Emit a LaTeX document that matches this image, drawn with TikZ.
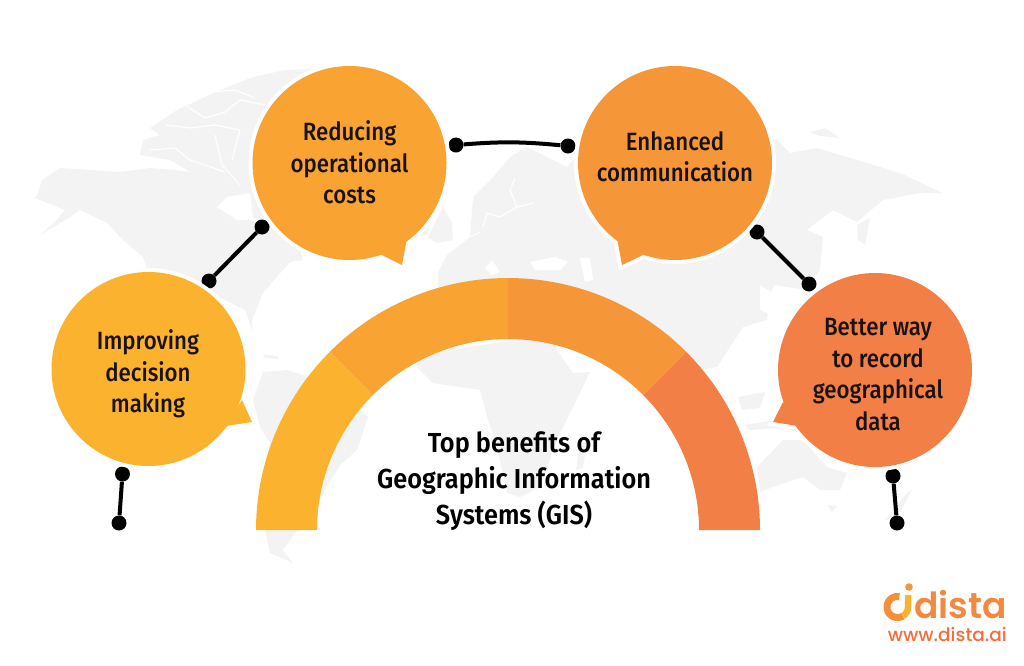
\documentclass[tikz,border=0pt]{standalone}
\usepackage{fontspec}
\setmainfont{Fira Sans}
\newfontfamily\lab{Fira Sans Medium}[FakeStretch=0.89]
\newfontfamily\ttlf{Fira Sans SemiBold}[FakeStretch=0.92]
\newfontfamily\logof{Poppins SemiBold}
\newfontfamily\urlf{Poppins Medium}
\definecolor{mapgray}{HTML}{F3F3F4}
\definecolor{cA}{HTML}{FBB32F}
\definecolor{cB}{HTML}{F8A332}
\definecolor{cC}{HTML}{F59738}
\definecolor{cD}{HTML}{F28046}
\definecolor{inkc}{HTML}{1A1210}
\tikzset{
  land/.style={fill=mapgray,draw=none},
  gap/.style={draw=white,line width=1.2pt,line join=round},
  hole/.style={fill=white,draw=none},
  dot/.style={circle,fill=black,inner sep=0pt,minimum size=15pt},
  link/.style={draw=black,line width=4pt},
  lbl/.style={font=\lab\fontsize{25}{31.4}\selectfont,text=inkc,align=center,inner sep=0pt},
  ttl/.style={font=\ttlf\fontsize{27.5}{36}\selectfont,text=black,align=center,inner sep=0pt},
  halo/.style={draw=white,fill=white,line width=8pt,line join=miter}
}
\newcommand{\sector}[3]{%
  \fill[#1] plot[domain=#2:#3,samples=50,smooth] ({508+252*cos(\x)},{530-252*sin(\x)})
    -- plot[domain=#3:#2,samples=50,smooth] ({508+191*cos(\x)},{530-191*sin(\x)}) -- cycle;}
\newcommand{\bubble}[6]{% x y colour, tail points
  \path[halo] (#1,#2) circle (97pt);
  \path[halo] (#4) -- (#5) -- (#6) -- cycle;
  \fill[#3] (#1,#2) circle (97pt);
  \fill[#3] (#4) -- (#5) -- (#6) -- cycle;}
\begin{document}
\begin{tikzpicture}[x=1pt,y=-1pt]
\useasboundingbox (0,0) rectangle (1024,665);
% --- world map
\fill[land] (37,195)--(42,180)--(60,168)--(90,170)--(120,172)--(150,168)--(175,170)--(190,172)--(170,160)--(140,155)--(143,140)--(160,135)--(150,128)--(177,110)--(220,90)--(253,77)--(285,70)--(340,68)--(340,110)--(300,220)--(300,250)--(303,260)--(290,262)--(263,293)--(252,320)--(253,332)--(245,310)--(225,300)--(147,270)--(143,257)--(123,240)--(107,223)--(80,210)--(70,217)--(40,235)--(55,222)--(65,210)--(35,198)--cycle;
\fill[hole] (217,207)--(227,197)--(250,193)--(253,217)--(262,225)--(250,220)--(237,220)--cycle;
\draw[gap] (150,150)--(175,148)--(190,160)--(205,165)--(225,172);
\draw[gap] (165,125)--(190,128)--(215,125)--(240,130);
\draw[gap] (185,105)--(205,118)--(225,112)--(240,100)--(265,105);
\draw[gap] (215,135)--(222,165)--(240,185);
\draw[gap] (240,130)--(232,160);
\draw[gap] (210,92)--(235,90)--(255,98);
\draw[gap] (80,210)--(72,222);
\fill[land] (253,400)--(263,372)--(287,370)--(303,375)--(340,395)--(368,417)--(357,450)--(340,465)--(325,490)--(310,520)--(295,533)--(283,550)--(293,563)--(270,553)--(265,530)--(265,480)--(270,443)--(260,427)--cycle;
\fill[land] (263,354)--(277,356)--(279,359)--(265,358)--cycle;
\fill[land] (410,355)--(418,368)--(433,383)--(480,390)--(487,417)--(497,447)--(507,493)--(520,497)--(540,487)--(557,440)--(570,413)--(590,372)--(573,373)--(557,350)--(553,335)--cycle;
\fill[land] (580,445)--(587,440)--(583,468)--(576,470)--cycle;
\fill[land] (438,300)--(438,272)--(447,255)--(470,237)--(473,197)--(493,177)--(510,157)--(527,147)--(567,167)--(600,130)--(777,140)--(790,153)--(817,148)--(867,163)--(900,173)--(943,193)--(920,193)--(883,200)--(857,222)--(833,210)--(807,230)--(823,237)--(820,270)--(805,290)--(775,285)--(770,293)--(767,320)--(743,327)--(730,347)--(717,367)--(690,372)--(620,360)--(570,340)--(508,335)--cycle;
\fill[hole] (485,268)--(492,260)--(500,272)--(492,275)--cycle;
\fill[hole] (530,262)--(555,257)--(568,262)--(560,270)--(535,270)--cycle;
\fill[hole] (580,258)--(590,258)--(593,280)--(585,282)--cycle;
\draw[gap] (515,178)--(510,190)--(517,207)--(533,203);
\draw[gap] (517,207)--(500,217)--(487,213)--(483,227);
\draw[gap] (470,237)--(480,232);
\fill[hole] (760,285)--(775,295)--(772,315)--(760,310)--cycle;
\fill[land] (428,237)--(443,207)--(452,223)--(453,240)--(437,243)--cycle;
\fill[land] (420,228)--(430,224)--(428,234)--(419,236)--cycle;
\fill[land] (857,225)--(870,218)--(865,245)--(858,240)--cycle;
\fill[land] (810,132)--(825,128)--(840,138)--(820,136)--cycle;
\fill[land] (738,397)--(765,392)--(760,408)--(742,410)--cycle;
\fill[land] (745,425)--(775,420)--(780,428)--(750,430)--cycle;
\fill[land] (757,467)--(783,440)--(803,440)--(827,467)--(847,473)--(840,490)--(820,490)--(803,477)--(773,487)--(760,492)--cycle;
\fill[land] (827,505)--(837,506)--(832,512)--cycle;
\fill[land] (907,493)--(912,490)--(897,518)--(885,520)--cycle;
% --- connectors
\node[dot] (d1a) at (119,523) {};
\node[dot] (d1b) at (122.5,474) {};
\node[dot] (d2a) at (209,281) {};
\node[dot] (d2b) at (262,227) {};
\node[dot] (d3a) at (456,145) {};
\node[dot] (d3b) at (568,146) {};
\node[dot] (d4a) at (757,232) {};
\node[dot] (d4b) at (809,284) {};
\node[dot] (d5a) at (893,476) {};
\node[dot] (d5b) at (897,523) {};
\draw[link] (d1a) -- (d1b);
\draw[link] (d2a) -- (d2b);
\draw[link] (d3a) to[bend left=5] (d3b);
\draw[link] (d4a) -- (d4b);
\draw[link] (d5a) -- (d5b);
% --- bubbles
\coordinate (t1a) at (242,400); \coordinate (t1b) at (252,422); \coordinate (t1c) at (226,426);
\coordinate (t2a) at (407,238); \coordinate (t2b) at (402,265); \coordinate (t2c) at (380,254);
\coordinate (t3a) at (617,238); \coordinate (t3b) at (622,265); \coordinate (t3c) at (645,254);
\coordinate (t4a) at (783,402); \coordinate (t4b) at (773,422); \coordinate (t4c) at (798,426);
\bubble{148.5}{369}{cA}{t1a}{t1b}{t1c}
\bubble{349.5}{163}{cB}{t2a}{t2b}{t2c}
\bubble{675}{163}{cC}{t3a}{t3b}{t3c}
\bubble{875}{370}{cD}{t4a}{t4b}{t4c}
\node[lbl] (l1) at (148,374) {Improving\\decision\\making};
\node[lbl] (l2) at (349.5,162.5) {Reducing\\operational\\costs};
\node[lbl] (l3) at (675,157) {Enhanced\\communication};
\node[lbl] (l4) at (878,374.5) {Better way\\to record\\geographical\\data};
% --- arch
\sector{cA}{135}{180}
\sector{cB}{90}{135}
\sector{cC}{45}{90}
\sector{cD}{0}{45}
\node[ttl] (title) at (514,481) {Top benefits of\\Geographic Information\\Systems (GIS)};
% --- logo
\draw[cC!70!cD,line width=7pt] plot[domain=80:300,samples=40,smooth] ({897.5+10.5*cos(\x)},{607-10.5*sin(\x)});
\draw[cA,line width=6.5pt] (908,595) -- (908,607) arc[start angle=0,end angle=-60,radius=10.5pt];
\fill[cC] (909,587) circle (3.8pt);
\node[font=\logof\fontsize{36}{36}\selectfont,text=cD!60!cC,inner sep=0pt,anchor=base east] (logo) at (1007,618) {dista};
\node[font=\urlf\fontsize{18.5}{18.5}\selectfont,text=cD!85!red,inner sep=0pt,anchor=base east] (url) at (1007,641) {www.dista.ai};
\end{tikzpicture}
\end{document}
